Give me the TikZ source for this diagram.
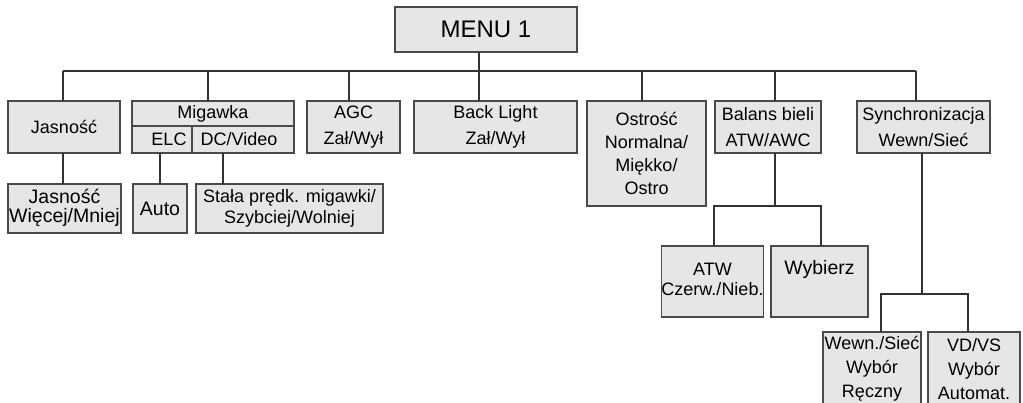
\documentclass[tikz,border=0pt]{standalone}
\usepackage{fontspec}
\setmainfont{Liberation Sans}
\definecolor{boxc}{HTML}{4A4A4A}
\definecolor{boxfill}{HTML}{E6E6E6}
\definecolor{wirec}{HTML}{333333}
\begin{document}
\begin{tikzpicture}[x=1pt,y=-1pt,
  box/.style={draw=boxc, fill=boxfill, line width=1.2pt, inner sep=0pt, outer sep=0pt, align=center, font=\fontsize{18}{26}\selectfont},
  wire/.style={draw=wirec, line width=1.3pt}]
\useasboundingbox (0,0) rectangle (1023,403);
% level 0
\node[box, minimum width=182, minimum height=45, font=\fontsize{24}{28}\selectfont] (menu) at (486,29.5) {MENU 1};
% level 1
\node[box, minimum width=112, minimum height=52] (jas) at (64,127) {Jasność};
\node[box, minimum width=162, minimum height=25] (migtop) at (213,113.5) {Migawka};
\node[box, minimum width=60, minimum height=27] (elc) at (162,139.5) {\hspace*{14pt}ELC};
\node[box, minimum width=102, minimum height=27] (dcv) at (243,139.5) {DC/Video\hspace*{8pt}};
\node[box, minimum width=93, minimum height=52] (agc) at (353.5,127) {AGC\\Zał/Wył};
\node[box, minimum width=163, minimum height=52] (back) at (495.5,127) {Back Light\\Zał/Wył};
\node[box, minimum width=119, minimum height=105, font=\fontsize{18}{23}\selectfont] (ost) at (646.5,153.5) {Ostrość\\Normalna/\\Miękko/\\Ostro};
\node[box, minimum width=106, minimum height=52] (bal) at (768,127) {Balans bieli\\ATW/AWC};
\node[box, minimum width=133, minimum height=52] (syn) at (923.5,127) {Synchronizacja\\Wewn/Sieć};
% level 2
\node[box, minimum width=113, minimum height=49, font=\fontsize{19.5}{21}\selectfont] (jas2) at (64.5,208.5) {\raisebox{3pt}{\begin{tabular}{@{}c@{}}Jasność\\[-2pt]Więcej/Mniej\end{tabular}}};
\node[box, minimum width=54, minimum height=49, font=\fontsize{19.5}{21}\selectfont] (auto) at (160,208.5) {Auto};
\node[box, minimum width=187, minimum height=49, font=\fontsize{18}{23}\selectfont] (stala) at (289.5,208.5) {\raisebox{2pt}{\begin{tabular}{@{}c@{}}Stała prędk. migawki/\\[-2pt]Szybciej/Wolniej\end{tabular}}};
\node[box, minimum width=97, minimum height=71, font=\fontsize{18}{21}\selectfont] (atw) at (712.5,281.5) {\raisebox{4pt}{\begin{tabular}{@{}c@{}}ATW\\[-1pt]Czerw./Nieb.\end{tabular}}};
\node[box, minimum width=97, minimum height=71, font=\fontsize{19.5}{21}\selectfont] (wyb) at (819.5,281.5) {\raisebox{28pt}{Wybierz}};
\node[box, minimum width=98, minimum height=74, font=\fontsize{18}{24}\selectfont] (wewn) at (872,369) {Wewn./Sieć\\Wybór\\Ręczny};
\node[box, minimum width=92, minimum height=74, font=\fontsize{18}{24}\selectfont] (vdvs) at (974,369) {VD/VS\\Wybór\\Automat.};
% connectors
\coordinate (busL) at (63,71);
\coordinate (busR) at (916,71);
\draw[wire] ([xshift=-7pt]menu.south) -- ([xshift=-16.5pt]back.north);
\draw[wire] (busL) -- (busR);
\draw[wire] (jas.north -| busL) -- (busL);
\draw[wire] ([xshift=-5pt]migtop.north) -- ([xshift=-5pt]migtop.north |- busL);
\draw[wire] ([xshift=-4.5pt]agc.north) -- ([xshift=-4.5pt]agc.north |- busL);
\draw[wire] ([xshift=-4.5pt]ost.north) -- ([xshift=-4.5pt]ost.north |- busL);
\draw[wire] ([xshift=7pt]bal.north) -- ([xshift=7pt]bal.north |- busL);
\draw[wire] (syn.north -| busR) -- (busR);
\draw[wire] (jas.south -| busL) -- (jas2.north -| busL);
\draw[wire] (elc.south -| auto.north) -- (auto.north);
\draw[wire] ([xshift=-20pt]dcv.south) -- ([xshift=-20pt]dcv.south |- stala.north);
\coordinate (balj) at (775,206);
\draw[wire] ([xshift=7pt]bal.south) -- (balj);
\draw[wire] ([xshift=1.5pt]atw.north) |- (balj) -| ([xshift=1.5pt]wyb.north);
\coordinate (synj) at (922,294);
\draw[wire] ([xshift=-1.5pt]syn.south) -- (synj);
\draw[wire] ([xshift=9pt]wewn.north) |- (synj) -| ([xshift=-6pt]vdvs.north);
\end{tikzpicture}
\end{document}
